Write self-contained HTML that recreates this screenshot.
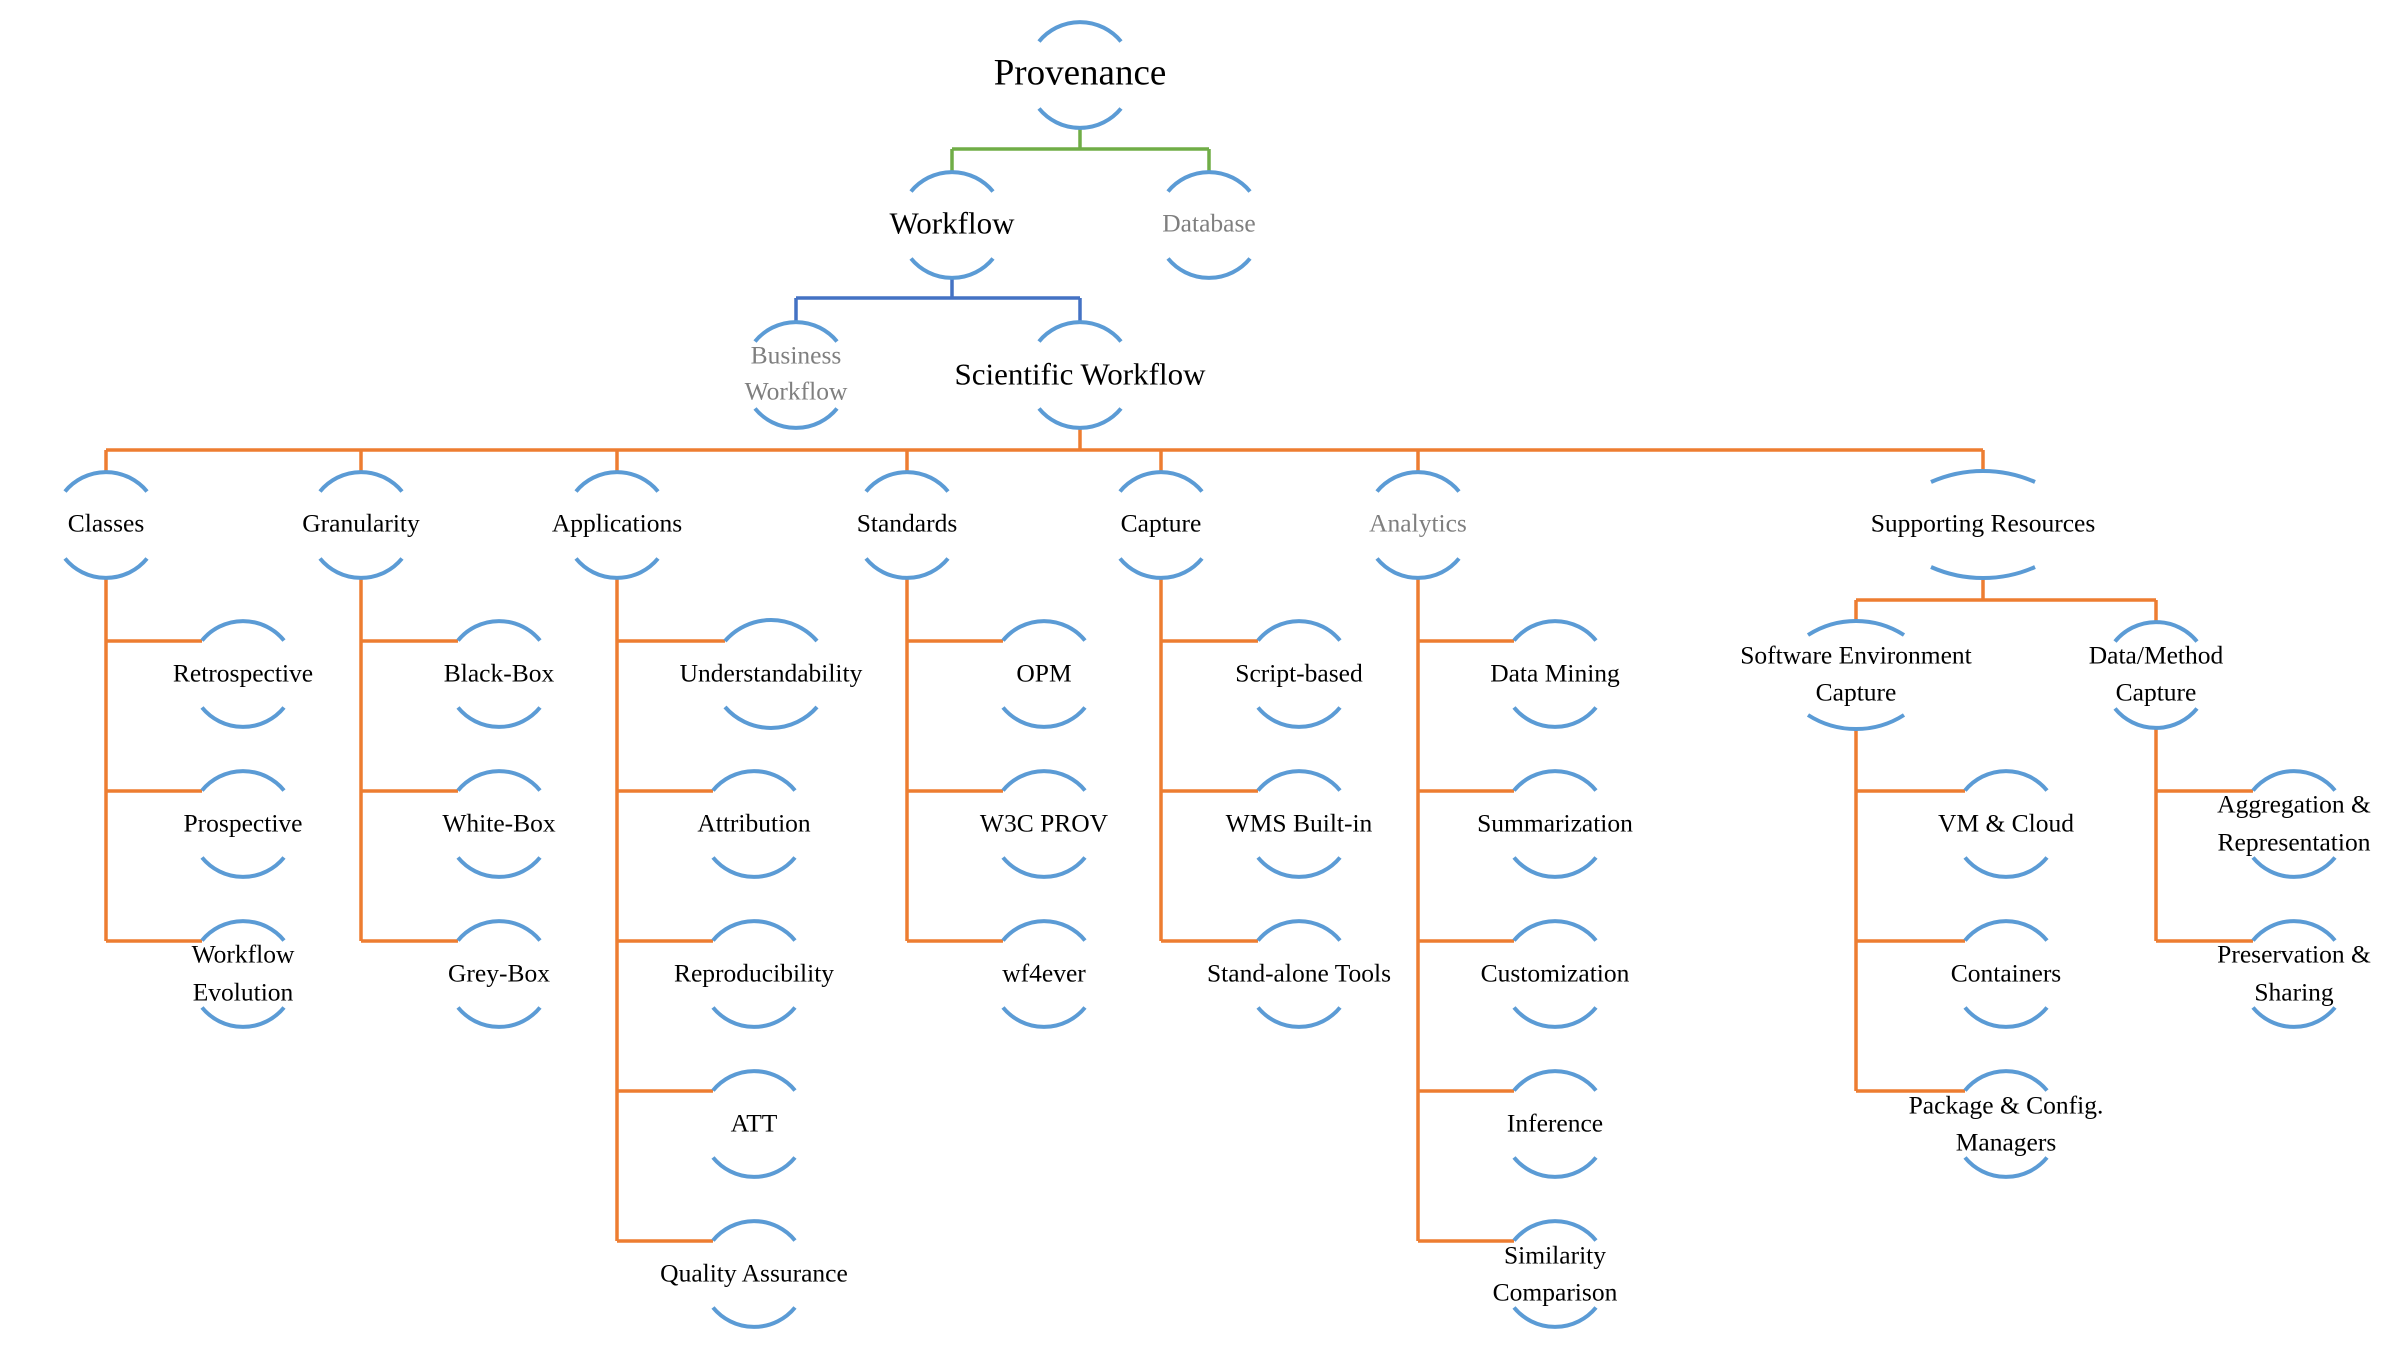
<!DOCTYPE html>
<html><head><meta charset="utf-8"><style>
html,body{margin:0;padding:0;background:#fff;}
svg{display:block;}
text{font-family:"Liberation Serif",serif;fill:#000;text-anchor:middle;dominant-baseline:central;font-size:25.5px;}
.g{fill:#7f7f7f;}
.a{fill:none;stroke:#5B9BD5;stroke-width:4;}
.o{fill:none;stroke:#ED7D31;stroke-width:3.5;}
</style></head><body>
<svg width="2400" height="1350" viewBox="0 0 2400 1350" xmlns="http://www.w3.org/2000/svg">
<defs>
<g id="n"><path class="a" d="M-41,-33.5 A53 53 0 0 1 41,-33.5 M-41,33.5 A53 53 0 0 0 41,33.5"/></g>
</defs>
<path fill="none" stroke="#70AD47" stroke-width="3.5" d="M1080,128V149 M952,149H1209 M952,149V172 M1209,149V172"/>
<path fill="none" stroke="#4472C4" stroke-width="3.5" d="M952,277V298 M796,298H1080 M796,298V321 M1080,298V321"/>
<path class="o" d="M1080,428V450 M106,450H1983 M106,450V471 M361,450V471 M617,450V471 M907,450V471 M1161,450V471 M1418,450V471 M1983,450V471
M106,578V941 M106,641H202 M106,791H202 M106,941H202
M361,578V941 M361,641H458 M361,791H458 M361,941H458
M617,578V1241 M617,641H725 M617,791H713 M617,941H713 M617,1091H713 M617,1241H713
M907,578V941 M907,641H1003 M907,791H1003 M907,941H1003
M1161,578V941 M1161,641H1258 M1161,791H1258 M1161,941H1258
M1418,578V1241 M1418,641H1514 M1418,791H1514 M1418,941H1514 M1418,1091H1514 M1418,1241H1514
M1983,579V600 M1856,600H2156 M1856,600V621 M2156,600V621
M1856,729V1091 M1856,791H1965 M1856,941H1965 M1856,1091H1965
M2156,729V941 M2156,791H2253 M2156,941H2253"/>
<use href="#n" x="1080" y="75"/><text x="1080" y="73" style="font-size:37px">Provenance</text>
<use href="#n" x="952" y="225"/><text x="952" y="223" style="font-size:31px">Workflow</text>
<use href="#n" x="1209" y="225"/><text x="1209" y="223" class="g">Database</text>
<use href="#n" x="796" y="375"/><text x="796" y="355" class="g">Business</text><text x="796" y="391" class="g">Workflow</text>
<use href="#n" x="1080" y="375"/><text x="1080" y="374" style="font-size:31px">Scientific Workflow</text>

<use href="#n" x="106" y="525"/><text x="106" y="523">Classes</text>
<use href="#n" x="361" y="525"/><text x="361" y="523">Granularity</text>
<use href="#n" x="617" y="525"/><text x="617" y="523">Applications</text>
<use href="#n" x="907" y="525"/><text x="907" y="523">Standards</text>
<use href="#n" x="1161" y="525"/><text x="1161" y="523">Capture</text>
<use href="#n" x="1418" y="525"/><text x="1418" y="523" class="g">Analytics</text>
<path class="a" d="M1931,482 A128 128 0 0 1 2035,482 M1931,567 A128 128 0 0 0 2035,567"/><text x="1983" y="523">Supporting Resources</text>

<use href="#n" x="243" y="674"/><text x="243" y="673">Retrospective</text>
<use href="#n" x="243" y="824"/><text x="243" y="823">Prospective</text>
<use href="#n" x="243" y="974"/><text x="243" y="954">Workflow</text><text x="243" y="992">Evolution</text>

<use href="#n" x="499" y="674"/><text x="499" y="673">Black-Box</text>
<use href="#n" x="499" y="824"/><text x="499" y="823">White-Box</text>
<use href="#n" x="499" y="974"/><text x="499" y="973">Grey-Box</text>

<path class="a" d="M725,641 A61 61 0 0 1 817,641 M725,707 A61 61 0 0 0 817,707"/><text x="771" y="673">Understandability</text>
<use href="#n" x="754" y="824"/><text x="754" y="823">Attribution</text>
<use href="#n" x="754" y="974"/><text x="754" y="973">Reproducibility</text>
<use href="#n" x="754" y="1124"/><text x="754" y="1123">ATT</text>
<use href="#n" x="754" y="1274"/><text x="754" y="1273">Quality Assurance</text>

<use href="#n" x="1044" y="674"/><text x="1044" y="673">OPM</text>
<use href="#n" x="1044" y="824"/><text x="1044" y="823">W3C PROV</text>
<use href="#n" x="1044" y="974"/><text x="1044" y="973">wf4ever</text>

<use href="#n" x="1299" y="674"/><text x="1299" y="673">Script-based</text>
<use href="#n" x="1299" y="824"/><text x="1299" y="823">WMS Built-in</text>
<use href="#n" x="1299" y="974"/><text x="1299" y="973">Stand-alone Tools</text>

<use href="#n" x="1555" y="674"/><text x="1555" y="673">Data Mining</text>
<use href="#n" x="1555" y="824"/><text x="1555" y="823">Summarization</text>
<use href="#n" x="1555" y="974"/><text x="1555" y="973">Customization</text>
<use href="#n" x="1555" y="1124"/><text x="1555" y="1123">Inference</text>
<use href="#n" x="1555" y="1274"/><text x="1555" y="1255">Similarity</text><text x="1555" y="1292">Comparison</text>

<path class="a" d="M1808,635 A89 89 0 0 1 1904,635 M1808,715 A89 89 0 0 0 1904,715"/><text x="1856" y="655">Software Environment</text><text x="1856" y="692">Capture</text>
<use href="#n" x="2156" y="675"/><text x="2156" y="655">Data/Method</text><text x="2156" y="692">Capture</text>

<use href="#n" x="2006" y="824"/><text x="2006" y="823">VM &amp; Cloud</text>
<use href="#n" x="2006" y="974"/><text x="2006" y="973">Containers</text>
<use href="#n" x="2006" y="1124"/><text x="2006" y="1105">Package &amp; Config.</text><text x="2006" y="1142">Managers</text>

<use href="#n" x="2294" y="824"/><text x="2294" y="804">Aggregation &amp;</text><text x="2294" y="842">Representation</text>
<use href="#n" x="2294" y="974"/><text x="2294" y="954">Preservation &amp;</text><text x="2294" y="992">Sharing</text>
</svg>
</body></html>
